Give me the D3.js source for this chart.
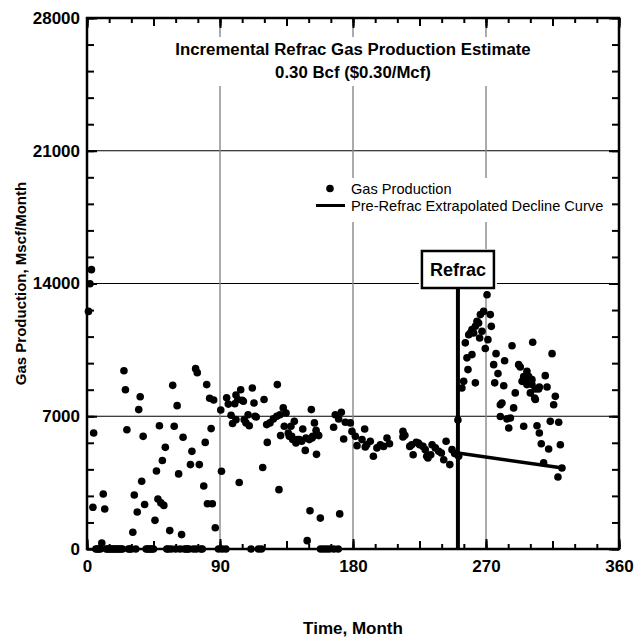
<!DOCTYPE html>
<html lang="en">
  <head>
    <meta charset="utf-8">
    <title>Refrac Gas Production</title>
    <script src="https://cdn.jsdelivr.net/npm/d3@7"></script>
    <style>
      body { margin: 0; background: white; }
      text { font-family: "Liberation Sans", Arial, sans-serif; }
    </style>
  </head>
  <body>
    <script type="text/javascript">

      var w = 634;
      var h = 637;
      var margin = {top: 18, right: 15, bottom: 88, left: 87};

      // tick labels
      var xTickValues = [0, 90, 180, 270, 360];
      var yTickValues = [0, 7000, 14000, 21000, 28000];

      var refracMonth = 251;

      // [month, Mscf/month]
      var earlyGas = [
        [1, 12530], [2, 13990], [3, 14730], [4, 2200], [4.5, 6120], [10, 320], [11, 2900], [12, 2110],
        [25, 9400], [26, 8400], [27, 6290], [31, 880], [32, 2850], [34, 1950], [35, 7350], [36, 8030],
        [37, 3570], [38, 5940], [39, 2350], [46, 1510], [47, 4110], [48, 2640], [49, 6500], [50, 2430],
        [51, 4670], [52, 2300], [53, 5360], [56, 970], [58, 8630], [59, 6470], [61, 7560], [62, 3960],
        [64, 760], [65, 5890], [70, 4450], [71, 5150], [73.5, 9510], [74.6, 9300], [76, 4450], [79, 3320],
        [80, 5620], [81, 8670], [81.5, 2390], [83, 7950], [84, 6350], [84.8, 2390], [85.7, 7860],
        [86.8, 1120], [90.5, 7330], [91, 4100], [94.5, 7970], [95.6, 7640], [97.5, 7050], [98.5, 6620]
      ];

      var zeroMonths = [6, 7, 8, 9, 13, 14, 15, 16, 17, 18, 19, 20, 21, 22, 23, 24, 28, 29, 30, 33,
        40, 41, 42, 43, 44, 45, 54, 55, 57, 60, 63, 66, 67, 68, 69, 72, 74, 77, 78, 89, 91.5, 94,
        111, 116, 118, 158, 160, 162, 164, 167, 170];

      var preRefracGas = [
        [100, 7660], [100.8, 8120], [100.8, 6820], [102, 7880], [103, 3510], [104, 8400], [105, 7840],
        [105.8, 7790], [106.4, 6820], [107.6, 6650], [109, 7080], [109.8, 6500], [111.9, 8490],
        [113, 7700], [113.7, 7000], [114.5, 6960], [118.9, 4300], [119.8, 7880],
        [121.6, 6560], [122, 5620], [123.8, 6650], [126.1, 6860], [128.4, 7000], [128.8, 8670],
        [129.9, 3130], [130.6, 7080], [131, 5980], [132.8, 7440], [133.5, 6470], [134.7, 7170],
        [136.2, 6120], [136.9, 5940], [138, 6470], [138.5, 5940], [139.2, 5770], [140.3, 6730],
        [141.4, 5590], [142.3, 5770], [143.7, 5770], [145.3, 5680], [146, 6330], [147.7, 5200],
        [148.2, 5850], [149, 440], [150.4, 5770], [150.9, 2020], [151.8, 7350], [152.3, 5850],
        [152.7, 5940], [153.9, 6650], [155, 6260], [155.3, 4990], [155.8, 6030], [156.8, 5980],
        [157.9, 1630], [166.9, 6420], [168, 7080], [170.3, 6860], [171, 1850], [172.1, 7210],
        [173.7, 5800], [174.8, 6680], [178.2, 6650], [179.3, 6200], [181.6, 5940], [182.7, 5450],
        [186.1, 5770], [187.9, 6330], [188.3, 5380], [189.3, 5500], [191.7, 5680], [193.8, 4890],
        [196.2, 5330], [198.5, 5500], [200.7, 5410], [203, 5850], [204.7, 5550],
        [213.8, 6200], [213.8, 5910], [215.1, 6000], [218.4, 5410], [219.7, 5500], [220.7, 4970],
        [222.8, 5620], [224.2, 5590], [225.1, 5500], [227.4, 5410], [228.9, 5240], [229.9, 4890],
        [230.7, 4800], [232.6, 4970], [233.5, 5500], [235.7, 5330], [238, 5150], [239.8, 5060],
        [241.4, 4710], [243, 5680], [245.5, 4450], [247, 5240], [248.8, 5030], [251.5, 4890]
      ];

      var postRefracGas = [
        [251, 6800], [253.7, 8490], [254.9, 8840], [256, 10870], [257.1, 10080], [257.8, 9460],
        [258.3, 11300], [259.4, 11390], [260.5, 11570], [260.5, 10250], [261.7, 11390], [262.8, 11740],
        [262.8, 8760], [263.9, 12010], [265, 11920], [265.7, 11130], [266.2, 12360], [267.3, 11480],
        [268.4, 12530], [269.5, 10570], [270.7, 13410], [271.3, 11040], [272.9, 12360], [273.6, 11740],
        [275.2, 9720], [275.9, 8760], [276.8, 10300], [278.1, 9250], [279.7, 7610], [279.7, 6990],
        [280.8, 7700], [282, 8610], [282.6, 9930], [284.2, 6860], [285.4, 6380], [286.5, 6910],
        [287.6, 10720], [288.7, 7440], [289.8, 8230], [292.1, 9720], [293.2, 9600], [294.4, 8840],
        [295.5, 9100], [295.5, 6470], [296.6, 8930], [297.7, 9370], [297.7, 8670], [298.9, 9100],
        [300, 8760], [300, 8230], [301.1, 8930], [301.1, 8670], [301.6, 10900], [302.9, 7960],
        [303.4, 7880], [303.4, 8440], [304.5, 6500], [305.6, 8440], [306.1, 8540], [306.1, 6120],
        [307.4, 5550], [309, 4540], [310.1, 9140], [311.3, 8540], [312.4, 5270], [313.5, 6730],
        [314.7, 10300], [315.8, 7610], [316.9, 8050], [318.7, 3800], [319.2, 6680], [320.3, 5500],
        [321.4, 4270]
      ];

      var declineCurve = [[251, 5060], [322, 4270]];

      var svg = d3.select("body")
          .append("svg")
          .attr("width", w)
          .attr("height", h);

      svg.append("rect")
          .attr("width", w)
          .attr("height", h)
          .attr("fill", "white");

      var xScale = d3.scaleLinear()
          .domain([0, 360])
          .range([margin.left, w - margin.right]);

      var yScale = d3.scaleLinear()
          .domain([0, 28000])
          .range([h - margin.bottom, margin.top]);

// grid lines
      svg.append("g")
          .selectAll("line")
          .data(yTickValues.slice(1, -1))
          .enter().append("line")
          .attr("x1", xScale(0))
          .attr("x2", xScale(360))
          .attr("y1", function(d) { return yScale(d) })
          .attr("y2", function(d) { return yScale(d) })
          .style("stroke", "black")
          .style("stroke-width", "1px");

      svg.append("g")
          .selectAll("line")
          .data(xTickValues.slice(1, -1))
          .enter().append("line")
          .attr("x1", function(d) { return xScale(d) })
          .attr("x2", function(d) { return xScale(d) })
          .attr("y1", yScale(0))
          .attr("y2", yScale(28000))
          .style("stroke", "#888")
          .style("stroke-width", "1.4px");

// title with white backing
      svg.append("rect")
          .attr("x", 166).attr("y", 37)
          .attr("width", 374).attr("height", 49)
          .attr("fill", "white");

      var title = svg.append("text")
          .attr("text-anchor", "middle")
          .style("font-weight", "bold")
          .style("font-size", "16.8px");
      title.append("tspan").attr("x", xScale(180)).attr("y", 55)
          .text("Incremental Refrac Gas Production Estimate");
      title.append("tspan").attr("x", xScale(180)).attr("y", 78)
          .text("0.30 Bcf ($0.30/Mcf)");

// legend
      svg.append("rect")
          .attr("x", 309).attr("y", 178)
          .attr("width", 305).attr("height", 44)
          .attr("fill", "white");

      svg.append("circle")
          .attr("cx", 330).attr("cy", 188.5).attr("r", 3.8)
          .attr("fill", "black");
      svg.append("line")
          .attr("x1", 316).attr("x2", 345)
          .attr("y1", 205.5).attr("y2", 205.5)
          .style("stroke", "black")
          .style("stroke-width", "3px");
      svg.append("text")
          .attr("x", 351).attr("y", 194)
          .style("font-size", "14.6px")
          .text("Gas Production");
      svg.append("text")
          .attr("x", 351).attr("y", 211)
          .style("font-size", "14.6px")
          .text("Pre-Refrac Extrapolated Decline Curve");

// refrac marker
      var boxW = 72, boxH = 37, boxTop = 251;
      svg.append("rect")
          .attr("x", xScale(refracMonth) - boxW / 2 - 3).attr("y", boxTop - 2)
          .attr("width", boxW + 6).attr("height", boxH + 5)
          .attr("fill", "white");
      svg.append("line")
          .attr("x1", xScale(refracMonth)).attr("x2", xScale(refracMonth))
          .attr("y1", yScale(0)).attr("y2", boxTop + boxH)
          .style("stroke", "black")
          .style("stroke-width", "4px");
      svg.append("rect")
          .attr("x", xScale(refracMonth) - boxW / 2).attr("y", boxTop)
          .attr("width", boxW).attr("height", boxH)
          .attr("fill", "white")
          .style("stroke", "black")
          .style("stroke-width", "2.5px");
      svg.append("text")
          .attr("x", xScale(refracMonth)).attr("y", boxTop + 25)
          .attr("text-anchor", "middle")
          .style("font-weight", "bold")
          .style("font-size", "18px")
          .text("Refrac");

// decline curve
      var line = d3.line()
          .x(function(d) { return xScale(d[0]) })
          .y(function(d) { return yScale(d[1]) });

      svg.append("path")
          .datum(declineCurve)
          .attr("d", line)
          .attr("fill", "none")
          .style("stroke", "black")
          .style("stroke-width", "3.5px");

// dots
      var allGas = earlyGas
          .concat(zeroMonths.map(function(m) { return [m, 0] }))
          .concat(preRefracGas)
          .concat(postRefracGas);

      svg.append("g")
          .selectAll("circle")
          .data(allGas)
          .enter().append("circle")
          .attr("cx", function(d) { return xScale(d[0]) })
          .attr("cy", function(d) { return yScale(d[1]) })
          .attr("r", 3.8)
          .attr("fill", "black");

// axes: inward ticks on all four sides
      function styleAxis(g) {
        g.select(".domain").remove();
        g.selectAll(".tick line").style("stroke", "black").style("stroke-width", "2px");
        g.selectAll("text")
            .style("font-family", '"Liberation Sans", Arial, sans-serif')
            .style("font-weight", "bold")
            .style("font-size", "17px")
            .attr("fill", "black");
      }

      var xMinor = d3.range(0, 361, 15);
      var xMid = d3.range(0, 361, 45);
      var yMinor = d3.range(0, 28001, 1400);

      [[d3.axisBottom, h - margin.bottom], [d3.axisTop, margin.top]].forEach(function(a) {
        svg.append("g").attr("transform", `translate(0, ${a[1]})`)
            .call(a[0](xScale).tickValues(xMinor).tickSize(-5).tickFormat(""))
            .call(styleAxis);
        svg.append("g").attr("transform", `translate(0, ${a[1]})`)
            .call(a[0](xScale).tickValues(xMid).tickSize(-8).tickFormat(""))
            .call(styleAxis);
      });

      svg.append("g").attr("transform", `translate(0, ${h - margin.bottom})`)
          .call(d3.axisBottom(xScale).tickValues(xTickValues).tickSize(-10).tickPadding(11)
              .tickFormat(d3.format("d")))
          .call(styleAxis);
      svg.append("g").attr("transform", `translate(0, ${margin.top})`)
          .call(d3.axisTop(xScale).tickValues(xTickValues).tickSize(-10).tickFormat(""))
          .call(styleAxis);

      svg.append("g").attr("transform", `translate(${margin.left}, 0)`)
          .call(d3.axisLeft(yScale).tickValues(yMinor).tickSize(-7).tickFormat(""))
          .call(styleAxis);
      svg.append("g").attr("transform", `translate(${margin.left}, 0)`)
          .call(d3.axisLeft(yScale).tickValues(yTickValues).tickSize(-10).tickPadding(7)
              .tickFormat(d3.format("d")))
          .call(styleAxis);
      svg.append("g").attr("transform", `translate(${w - margin.right}, 0)`)
          .call(d3.axisRight(yScale).tickValues(yMinor).tickSize(-7).tickFormat(""))
          .call(styleAxis);
      svg.append("g").attr("transform", `translate(${w - margin.right}, 0)`)
          .call(d3.axisRight(yScale).tickValues(yTickValues).tickSize(-10).tickFormat(""))
          .call(styleAxis);

// frame
      svg.append("rect")
          .attr("x", xScale(0)).attr("y", yScale(28000))
          .attr("width", xScale(360) - xScale(0))
          .attr("height", yScale(0) - yScale(28000))
          .attr("fill", "none")
          .style("stroke", "black")
          .style("stroke-width", "2.5px");

// axis titles
      svg.append("text")
          .attr("x", xScale(180)).attr("y", 634)
          .attr("text-anchor", "middle")
          .style("font-weight", "bold")
          .style("font-size", "17px")
          .text("Time, Month");

      svg.append("text")
          .attr("transform", `translate(26, ${(yScale(0) + yScale(28000)) / 2}) rotate(-90)`)
          .attr("text-anchor", "middle")
          .style("font-weight", "bold")
          .style("font-size", "15px")
          .text("Gas Production, Mscf/Month");

    </script>
  </body>
</html>
